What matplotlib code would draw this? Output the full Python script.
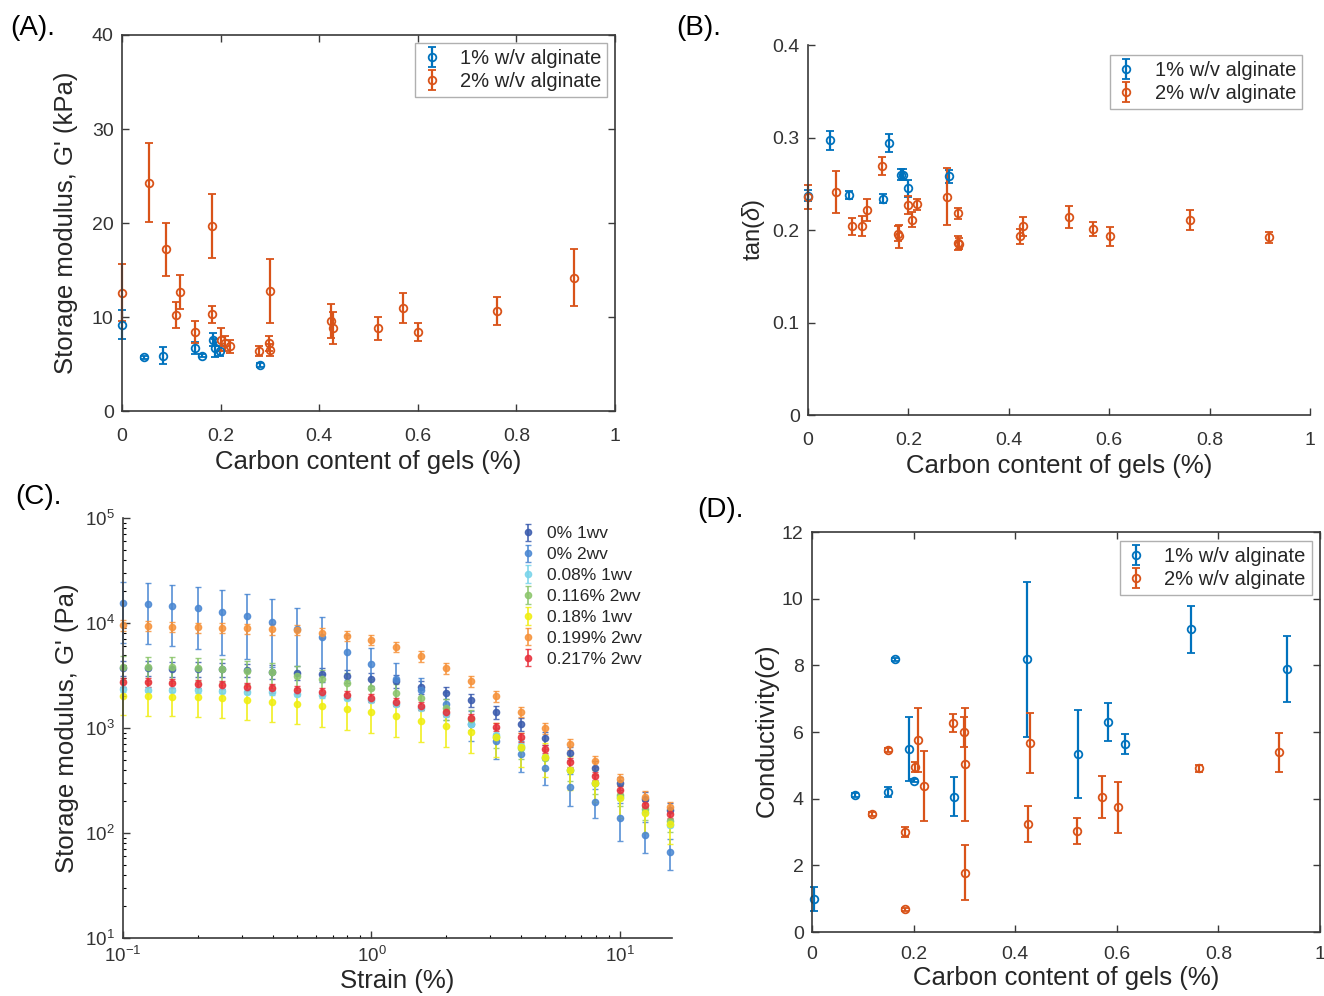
import matplotlib
matplotlib.use("Agg")
import matplotlib.pyplot as plt
from matplotlib.ticker import LogLocator, NullFormatter
import numpy as np

plt.rcParams['font.family'] = ['Liberation Sans', 'DejaVu Sans']
plt.rcParams['mathtext.fontset'] = 'custom'
plt.rcParams['mathtext.rm'] = 'Liberation Sans'
plt.rcParams['mathtext.it'] = 'Liberation Sans:italic'

BLUE = '#0072BD'
ORANGE = '#D95319'
TXT = '#262626'

# ---------------- Panel A data ----------------
a_x_1 = [0.0, 0.045, 0.083, 0.149, 0.162, 0.185, 0.189, 0.199, 0.280]
a_y_1 = [9.2, 5.7, 5.9, 6.7, 5.9, 7.6, 6.7, 6.4, 4.9]
a_e_1 = [1.5, 0.2, 0.9, 0.6, 0.2, 0.7, 1.0, 0.5, 0.2]
a_x_2 = [0.0, 0.055, 0.089, 0.109, 0.118, 0.149, 0.182, 0.182, 0.201, 0.209, 0.219,
         0.277, 0.299, 0.300, 0.300, 0.424, 0.429, 0.519, 0.569, 0.601, 0.760, 0.917]
a_y_2 = [12.6, 24.3, 17.2, 10.2, 12.7, 8.4, 19.7, 10.3, 7.6, 7.2, 6.9,
         6.4, 7.2, 6.5, 12.8, 9.6, 8.8, 8.8, 11.0, 8.4, 10.6, 14.2]
a_e_2 = [3.0, 4.2, 2.8, 1.4, 1.8, 1.2, 3.4, 0.9, 1.2, 0.8, 0.7,
         0.5, 0.8, 0.6, 3.4, 1.8, 1.7, 1.2, 1.6, 1.0, 1.5, 3.0]

# ---------------- Panel B data ----------------
b_x_1 = [0.0, 0.044, 0.082, 0.149, 0.161, 0.185, 0.189, 0.199, 0.280]
b_y_1 = [0.237, 0.297, 0.238, 0.234, 0.294, 0.260, 0.260, 0.245, 0.258]
b_e_1 = [0.006, 0.010, 0.004, 0.005, 0.010, 0.006, 0.006, 0.009, 0.007]
b_x_2 = [0.0, 0.055, 0.087, 0.108, 0.118, 0.148, 0.180, 0.182, 0.200, 0.208, 0.218,
         0.276, 0.299, 0.298, 0.300, 0.422, 0.429, 0.519, 0.568, 0.602, 0.761, 0.918]
b_y_2 = [0.236, 0.241, 0.204, 0.204, 0.222, 0.269, 0.196, 0.193, 0.227, 0.211, 0.228,
         0.236, 0.218, 0.186, 0.185, 0.193, 0.204, 0.214, 0.201, 0.193, 0.211, 0.192]
b_e_2 = [0.013, 0.023, 0.009, 0.011, 0.012, 0.010, 0.008, 0.012, 0.010, 0.008, 0.006,
         0.031, 0.006, 0.008, 0.006, 0.008, 0.010, 0.012, 0.008, 0.010, 0.011, 0.006]

# ---------------- Panel C data ----------------
strain = [0.1, 0.126, 0.158, 0.2, 0.251, 0.316, 0.398, 0.501, 0.631, 0.794, 1.0, 1.26,
          1.58, 2.0, 2.51, 3.16, 3.98, 5.01, 6.31, 7.94, 10.0, 12.6, 15.85]
c_labels = ['0% 1wv', '0% 2wv', '0.08% 1wv', '0.116% 2wv', '0.18% 1wv', '0.199% 2wv', '0.217% 2wv']
g_0_1wv = [3700, 3700, 3680, 3650, 3620, 3570, 3440, 3370, 3240, 3130, 2910, 2800,
           2470, 2170, 1850, 1430, 1090, 800, 574, 420, 300, 210, 165]
e_0_1wv = [600, 600, 600, 580, 560, 540, 520, 500, 480, 450, 420, 400,
           350, 300, 250, 200, 150, 110, 80, 60, 45, 35, 30]
g_0_2wv = [15400, 15100, 14500, 13800, 12800, 11700, 10300, 8700, 7300, 5260, 4040, 2930,
           2300, 1700, 1100, 760, 565, 413, 272, 199, 138, 96, 66]
e_0_2wv = [9000, 8800, 8500, 8200, 7800, 7200, 6500, 5300, 4000, 2400, 1700, 1200,
           700, 500, 350, 250, 180, 127, 91, 61, 55, 31, 22]
g_008_1wv = [2330, 2320, 2300, 2280, 2250, 2220, 2180, 2120, 2050, 1950, 1850, 1700,
             1550, 1350, 1100, 850, 680, 530, 400, 300, 220, 160, 120]
e_008_1wv = [120, 120, 115, 115, 110, 110, 110, 105, 100, 100, 95, 85,
             80, 70, 60, 45, 35, 30, 20, 15, 12, 9, 7]
g_0116_2wv = [3850, 3800, 3780, 3750, 3650, 3500, 3380, 3150, 2900, 2680, 2390, 2140,
              1930, 1550, 1220, 820, 650, 520, 400, 300, 230, 170, 130]
e_0116_2wv = [1000, 980, 960, 940, 900, 860, 820, 760, 700, 640, 560, 500,
              440, 350, 270, 180, 140, 110, 85, 65, 50, 37, 28]
g_018_1wv = [2020, 2010, 1990, 1960, 1920, 1850, 1780, 1690, 1620, 1520, 1410, 1300,
             1170, 1050, 923, 815, 663, 532, 398, 297, 214, 154, 123]
e_018_1wv = [700, 700, 690, 680, 670, 650, 630, 610, 600, 560, 520, 480,
             440, 390, 340, 290, 240, 190, 140, 100, 75, 55, 45]
g_0199_2wv = [9570, 9360, 9220, 9100, 9020, 8890, 8710, 8570, 8090, 7520, 6890, 5950,
              4850, 3700, 2800, 2020, 1430, 1006, 699, 485, 327, 222, 176]
e_0199_2wv = [1100, 1050, 1050, 1000, 1000, 1000, 980, 950, 900, 850, 780, 680,
              560, 430, 330, 240, 170, 120, 85, 60, 40, 28, 22]
g_0217_2wv = [2720, 2720, 2670, 2630, 2570, 2470, 2390, 2300, 2220, 2060, 1940, 1780,
              1620, 1430, 1240, 1030, 815, 631, 471, 349, 257, 185, 152]
e_0217_2wv = [250, 250, 245, 240, 235, 225, 220, 210, 205, 190, 180, 165,
              150, 130, 115, 95, 75, 58, 43, 32, 24, 17, 14]
c_values = [g_0_1wv, g_0_2wv, g_008_1wv, g_0116_2wv, g_018_1wv, g_0199_2wv, g_0217_2wv]
c_errors = [e_0_1wv, e_0_2wv, e_008_1wv, e_0116_2wv, e_018_1wv, e_0199_2wv, e_0217_2wv]
c_colors = ['#3b5cae', '#4a87d2', '#78d4ea', '#8cc66c', '#f0ee10', '#f6923a', '#e8303c']

# ---------------- Panel D data ----------------
d_x_1 = [0.003, 0.085, 0.150, 0.163, 0.191, 0.201, 0.280, 0.424, 0.523, 0.583, 0.617, 0.747, 0.936]
d_y_1 = [0.99, 4.11, 4.21, 8.18, 5.49, 4.54, 4.06, 8.18, 5.34, 6.31, 5.64, 9.08, 7.89]
d_e_1 = [0.35, 0.05, 0.15, 0.05, 0.95, 0.05, 0.58, 2.33, 1.33, 0.57, 0.30, 0.71, 0.99]
d_x_2 = [0.119, 0.150, 0.183, 0.184, 0.203, 0.209, 0.220, 0.278, 0.299, 0.301, 0.301,
         0.426, 0.430, 0.521, 0.571, 0.603, 0.762, 0.920]
d_y_2 = [3.54, 5.46, 3.01, 0.68, 4.94, 5.76, 4.39, 6.26, 6.01, 5.03, 1.78,
         3.24, 5.66, 3.03, 4.06, 3.74, 4.91, 5.39]
d_e_2 = [0.05, 0.05, 0.15, 0.05, 0.15, 0.97, 1.05, 0.27, 0.45, 1.70, 0.83,
         0.54, 0.90, 0.40, 0.63, 0.77, 0.10, 0.59]

legend_labels = ['1% w/v alginate', '2% w/v alginate']

W, H = 1324, 996
fig = plt.figure(figsize=(W / 100, H / 100), dpi=100)


def ax_px(left, top, right, bottom):
    return fig.add_axes([left / W, 1 - bottom / H, (right - left) / W, (bottom - top) / H])


def style(ax, box=True, xpad=12):
    for s in ax.spines.values():
        s.set_color('#3a3a3a')
        s.set_linewidth(1.2)
    if not box:
        ax.spines['top'].set_visible(False)
        ax.spines['right'].set_visible(False)
    ax.tick_params(direction='in', length=5, width=1.0, colors='#3a3a3a',
                   labelcolor='#333333', labelsize=14, top=box, right=box, pad=6)
    ax.tick_params(axis='x', pad=xpad)
    ax.tick_params(which='minor', direction='in', length=2.5, width=0.8, top=box, right=box)


ekw = dict(fmt='o', markersize=5.5, mfc='none', mew=1.3, elinewidth=1.6, capsize=3,
           capthick=1.6, clip_on=False)
xt = [0, 0.2, 0.4, 0.6, 0.8, 1]
xtl = ['0', '0.2', '0.4', '0.6', '0.8', '1']


def two_series(ax, x1, y1, e1, x2, y2, e2, legend_anchor):
    h1 = ax.errorbar(x1, y1, yerr=e1, color=BLUE, **ekw)
    h2 = ax.errorbar(x2, y2, yerr=e2, color=ORANGE, **ekw)
    leg = ax.legend([h1, h2], legend_labels, loc='upper right', bbox_to_anchor=legend_anchor,
                    fontsize=14.5, frameon=True, fancybox=False, framealpha=1,
                    edgecolor='#b0b0b0', handlelength=1.0, handletextpad=0.9,
                    borderpad=0.3, labelspacing=0.2, borderaxespad=0)
    leg.get_frame().set_linewidth(1.0)
    leg.set_zorder(10)
    for t in leg.get_texts():
        t.set_color(TXT)


# Panel A
axA = ax_px(122, 35, 615, 411)
two_series(axA, a_x_1, a_y_1, a_e_1, a_x_2, a_y_2, a_e_2, (0.984, 0.979))
axA.set_xlim(0, 1)
axA.set_ylim(0, 40)
axA.set_xticks(xt)
axA.set_xticklabels(xtl)
axA.set_yticks([0, 10, 20, 30, 40])
style(axA, box=True)
axA.set_xlabel('Carbon content of gels (%)', fontsize=18.5, color=TXT, labelpad=4)
axA.set_ylabel("Storage modulus, G' (kPa)", fontsize=18.5, color=TXT, labelpad=10)
fig.text(10 / W, 1 - 28 / H, '(A).', fontsize=20, color='black', va='center', ha='left')

# Panel B
axB = ax_px(808, 45, 1310, 415)
two_series(axB, b_x_1, b_y_1, b_e_1, b_x_2, b_y_2, b_e_2, (0.984, 0.973))
axB.set_xlim(0, 1)
axB.set_ylim(0, 0.4)
axB.set_xticks(xt)
axB.set_xticklabels(xtl)
axB.set_yticks([0, 0.1, 0.2, 0.3, 0.4])
axB.set_yticklabels(['0', '0.1', '0.2', '0.3', '0.4'])
style(axB, box=False)
axB.set_xlabel('Carbon content of gels (%)', fontsize=18.5, color=TXT, labelpad=4)
axB.set_ylabel(r'tan($\delta$)', fontsize=17, color=TXT, labelpad=4)
fig.text(676 / W, 1 - 28 / H, '(B).', fontsize=20, color='black', va='center', ha='left')

# Panel C
axC = ax_px(123, 518, 672, 938)
handles = []
for vals, errs, col in zip(c_values, c_errors, c_colors):
    h = axC.errorbar(strain, vals, yerr=errs, fmt='o', color=col, markersize=4.5,
                     mfc=col, mec=col, elinewidth=1.3, capsize=2, capthick=1.0, alpha=0.85,
                     clip_on=False)
    handles.append(h)
axC.set_xscale('log')
axC.set_yscale('log')
axC.set_xlim(0.1, 16.2)
axC.set_ylim(10, 1e5)
axC.xaxis.set_major_locator(LogLocator(base=10, numticks=10))
axC.xaxis.set_minor_locator(LogLocator(base=10, subs=np.arange(2, 10), numticks=10))
axC.yaxis.set_major_locator(LogLocator(base=10, numticks=10))
axC.yaxis.set_minor_locator(LogLocator(base=10, subs=np.arange(2, 10), numticks=10))
axC.xaxis.set_minor_formatter(NullFormatter())
axC.yaxis.set_minor_formatter(NullFormatter())
style(axC, box=False, xpad=6)
axC.tick_params(labelsize=13.5)
axC.set_xlabel('Strain (%)', fontsize=18.5, color=TXT, labelpad=2)
axC.set_ylabel("Storage modulus, G' (Pa)", fontsize=18.5, color=TXT, labelpad=4)
legC = axC.legend(handles, c_labels, loc='upper right', bbox_to_anchor=(0.965, 1.005),
                  fontsize=12.5, frameon=False, handlelength=0.6, handletextpad=0.8,
                  labelspacing=0.33, borderaxespad=0.2)
for t in legC.get_texts():
    t.set_color(TXT)
fig.text(15 / W, 1 - 497 / H, '(C).', fontsize=20, color='black', va='center', ha='left')

# Panel D
axD = ax_px(812, 532, 1320, 932)
two_series(axD, d_x_1, d_y_1, d_e_1, d_x_2, d_y_2, d_e_2, (0.984, 0.978))
axD.set_xlim(0, 1)
axD.set_ylim(0, 12)
axD.set_xticks(xt)
axD.set_xticklabels(xtl)
axD.set_yticks([0, 2, 4, 6, 8, 10, 12])
style(axD, box=True, xpad=10)
axD.set_xlabel('Carbon content of gels (%)', fontsize=18.5, color=TXT, labelpad=2)
axD.set_ylabel(r'Conductivity($\sigma$)', fontsize=18.5, color=TXT, labelpad=0)
fig.text(697 / W, 1 - 510 / H, '(D).', fontsize=20, color='black', va='center', ha='left')

fig.savefig('out.png', dpi=100)
